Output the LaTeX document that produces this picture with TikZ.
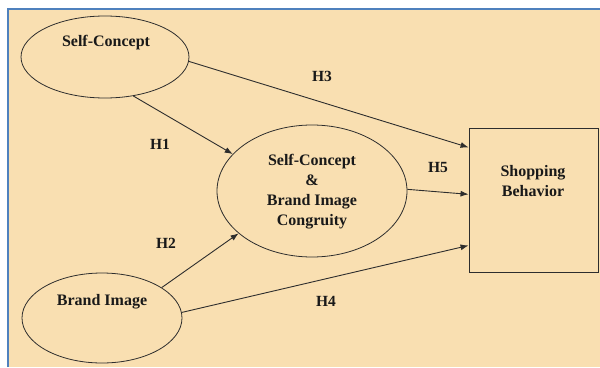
\documentclass[tikz,border=0pt]{standalone}
\usepackage{fontspec}
\setmainfont{Liberation Serif}
\usetikzlibrary{arrows.meta,shapes.geometric,positioning}
\definecolor{paper}{RGB}{249,223,177}
\definecolor{frameblue}{RGB}{79,129,189}
\definecolor{ink}{RGB}{45,45,45}

\begin{document}
\begin{tikzpicture}
[x=1pt, y=-1pt, line width=0.9pt, >={Latex[length=8pt,width=6pt]},
construct/.style={ellipse, draw=ink, line width=0.8pt, inner sep=0pt},
outcome/.style={rectangle, draw=ink, line width=0.9pt, inner sep=0pt, minimum width=129pt, minimum height=144pt},
caption/.style={font=\fontsize{16}{20}\selectfont\bfseries, align=center, inner sep=0pt, text=black!90},
hypo/.style={font=\fontsize{15.5}{18}\selectfont\bfseries, inner sep=0pt, text=black!90},
link/.style={->, draw=ink, line width=0.9pt}]

\useasboundingbox (0,0) rectangle (600,367);

% page background
\fill[white] (0,0) rectangle (600,367);
\fill[paper] (8,9) rectangle (600,367);
\draw[frameblue, line width=1.8pt] (8,367) -- (8,9) -- (600,9);

\node[construct, minimum width=168pt, minimum height=82pt] (sc) at (105,57) {};
\node[caption] (sclabel) at (106,43) {Self-Concept};

\node[construct, minimum width=160pt, minimum height=90pt] (bi) at (102,318) {};
\node[caption] (bilabel) at (102,302) {Brand Image};

\node[construct, minimum width=190pt, minimum height=132pt] (cong) at (312,191) {};
\node[caption] (conglabel) at (312,192) {Self-Concept\\\&\\Brand Image\\Congruity};

\node[outcome] (sb) at (533.5,200) {};
\node[caption] (sblabel) at (533,181) {Shopping\\Behavior};

\draw[link] (sc.-3) -- (sb.141);
\draw[link] (sc.-54) -- (cong.155);
\draw[link] (bi.27) -- (cong.210);
\draw[link] (bi.4) -- (sb.215);
\draw[link] (cong.1) -- (sb.175);

\node[hypo] (h1) at (160,144) {H1};
\node[hypo] (h2) at (166,243) {H2};
\node[hypo] (h3) at (322,76) {H3};
\node[hypo] (h4) at (326,301) {H4};
\node[hypo] (h5) at (438,167) {H5};

\end{tikzpicture}
\end{document}
